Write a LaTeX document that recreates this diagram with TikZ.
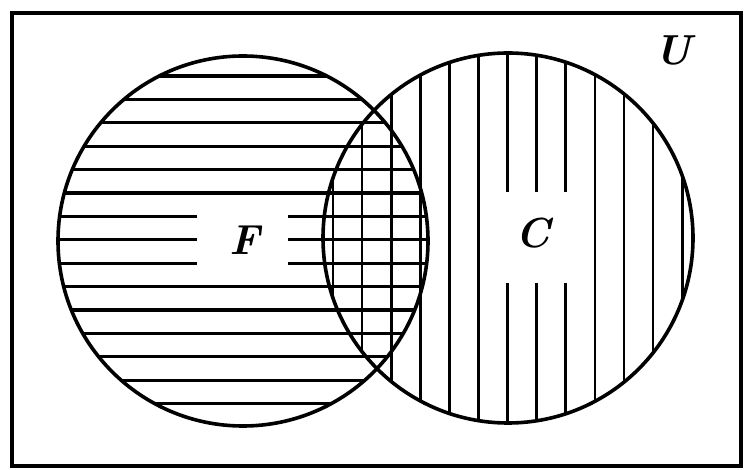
\documentclass[tikz,border=0pt]{standalone}
\usepackage{fontspec}
\setmainfont{Latin Modern Roman}
\begin{document}
\begin{tikzpicture}[x=1pt,y=-1pt,
  outline/.style={line width=3.6pt},
  hhatch/.style={line width=3.1pt},
  vhatch/.style={line width=2.7pt},
  lbl/.style={font=\fontsize{42}{42}\selectfont\bfseries\itshape, inner sep=0pt}]
\useasboundingbox (0,0) rectangle (745,470);
\draw[outline] (12,13) rectangle (741,466);
% horizontal hatching of F
\begin{scope}
  \clip (243,241) circle[radius=185pt];
  \foreach \k in {0,1,2,3,4,5,9,10,11,12,13,14}
    \draw[hhatch] (50,{76+23.4*\k}) -- (440,{76+23.4*\k});
  \foreach \k in {6,7,8}{
    \draw[hhatch] (50,{76+23.4*\k}) -- (197,{76+23.4*\k});
    \draw[hhatch] (288,{76+23.4*\k}) -- (440,{76+23.4*\k});
  }
\end{scope}
% vertical hatching of C
\begin{scope}
  \clip (508,238) circle[radius=185pt];
  \foreach \j in {0,1,2,3,4,5,9,10,11,12}
    \draw[vhatch] ({333+29.1*\j},40) -- ({333+29.1*\j},440);
  \foreach \j in {6,7,8}{
    \draw[vhatch] ({333+29.1*\j},40) -- ({333+29.1*\j},192);
    \draw[vhatch] ({333+29.1*\j},283) -- ({333+29.1*\j},440);
  }
\end{scope}
\draw[outline] (243,241) circle[radius=185pt];
\draw[outline] (508,238) circle[radius=185pt];
\node[lbl] (F) at (245,240) {F};
\node[lbl] (C) at (533,233) {C};
\node[lbl] (U) at (673,50) {U};
\end{tikzpicture}
\end{document}
